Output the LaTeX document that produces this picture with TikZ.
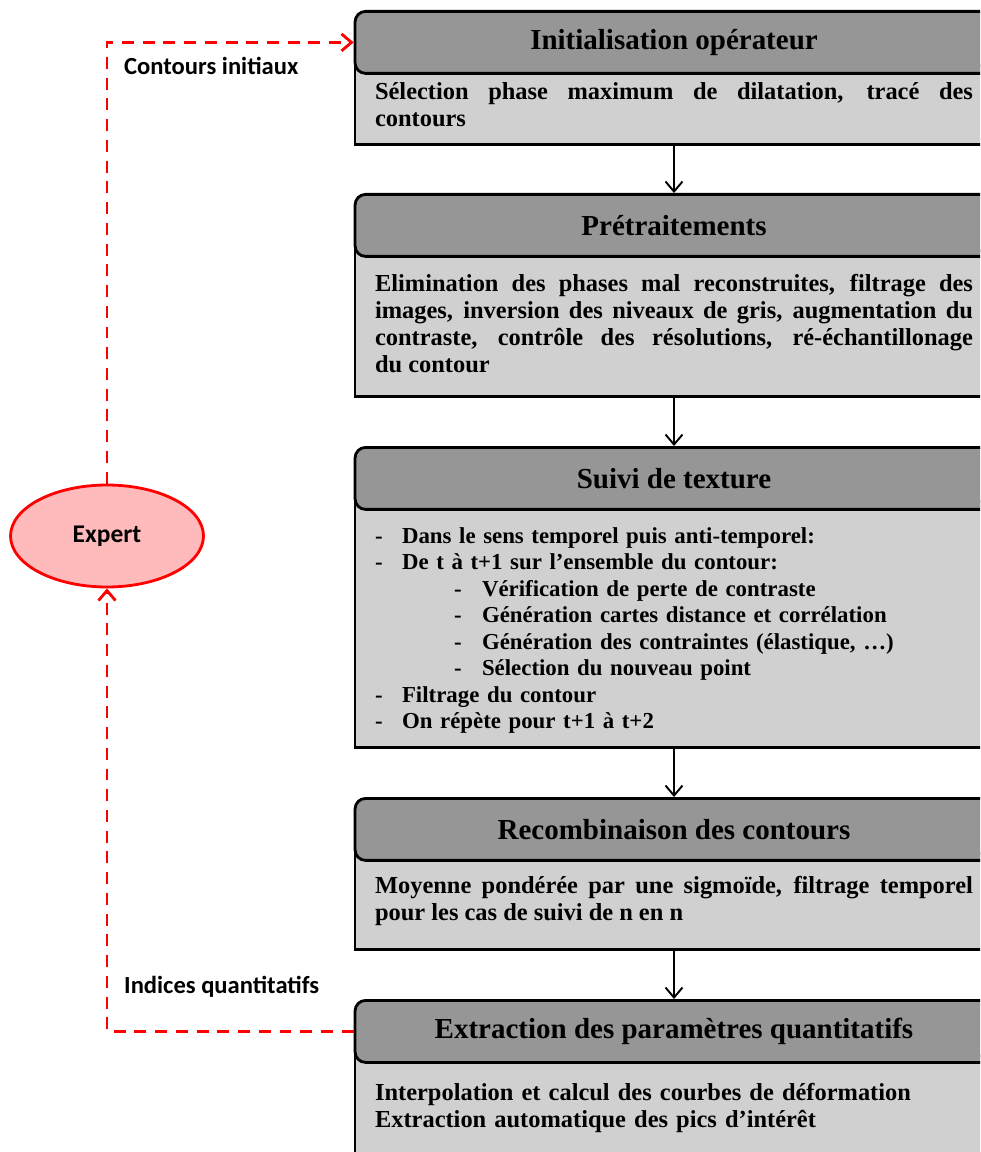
\documentclass[tikz,border=0pt]{standalone}
\usepackage{fontspec}
\setmainfont{Liberation Serif}
\newfontfamily\labelfont{Carlito}
\usepackage{tikz}
\usetikzlibrary{arrows.meta,shapes.geometric}

\definecolor{headgray}{RGB}{150,150,150}
\definecolor{bodygray}{RGB}{208,208,208}
\definecolor{expertpink}{RGB}{255,187,187}

\newcommand{\stepone}[1]{\makebox[0.54cm][l]{-}#1}
\newcommand{\steptwo}[1]{\hspace*{1.58cm}\makebox[0.56cm][l]{-}#1}

\begin{document}
\begin{tikzpicture}[x=0.02cm,y=-0.02cm,
  head/.style={draw=black,line width=1.6pt,fill=headgray,rounded corners=6pt,
    minimum width=12.76cm,minimum height=1.24cm,anchor=north,
    font=\bfseries\fontsize{16.5}{20}\selectfont},
  body/.style={draw=black,line width=1.6pt,fill=bodygray,
    minimum width=12.76cm,text width=11.96cm,anchor=north,inner xsep=0pt,
    font=\bfseries\fontsize{13.9}{15.3}\selectfont},
  flow/.style={draw=black,line width=1.1pt,-{Straight Barb[length=0.2cm,width=0.34cm]}},
  feedback/.style={draw=red,line width=1.6pt,dash pattern=on 6.8pt off 5pt,
    -{Straight Barb[length=0.2cm,width=0.34cm]}},
  side/.style={anchor=west,font=\labelfont\bfseries\fontsize{14}{16}\selectfont}]
\path[use as bounding box] (0,0) rectangle (980,1152);
\clip (0,0) rectangle (980,1152);

% boxes
\node[body,minimum height=1.58cm,align=justify] (b1) at (674,64)
  {S\'election phase maximum de dilatation, trac\'e des\linebreak contours};
\node[head] (h1) at (674,10) {Initialisation op\'erateur};

\node[body,minimum height=2.92cm,align=justify] (b2) at (674,249)
  {Elimination des phases mal reconstruites, filtrage des\linebreak
   images, inversion des niveaux de gris, augmentation du\linebreak
   contraste, contr\^ole des r\'esolutions, r\'e-\'echantillonage\linebreak
   du contour};
\node[head] (h2) at (674,193) {Pr\'etraitements};

\node[body,minimum height=4.92cm,align=left,
  font=\bfseries\fontsize{13}{15.1}\selectfont] (b3) at (674,500)
  {\rule{0pt}{16pt}\stepone{Dans le sens temporel puis anti-temporel:}\\
   \stepone{De t \`a t+1 sur l’ensemble du contour:}\\
   \steptwo{V\'erification de perte de contraste}\\
   \steptwo{G\'en\'eration cartes distance et corr\'elation}\\
   \steptwo{G\'en\'eration des contraintes (\'elastique, …)}\\
   \steptwo{S\'election du nouveau point}\\
   \stepone{Filtrage du contour}\\
   \stepone{On r\'ep\`ete pour t+1 \`a t+2}};
\node[head] (h3) at (674,446) {Suivi de texture};

\node[body,minimum height=1.92cm,align=justify] (b4) at (674,852)
  {Moyenne pond\'er\'ee par une sigmo\"ide, filtrage temporel\linebreak
   pour les cas de suivi de n en n};
\node[head] (h4) at (674,797) {Recombinaison des contours};

\node[body,minimum height=2.12cm,align=left] (b5) at (674,1054)
  {Interpolation et calcul des courbes de d\'eformation\\
   Extraction automatique des pics d’int\'er\^et};
\node[head] (h5) at (674,999) {Extraction des param\`etres quantitatifs};

% expert
\node[ellipse,draw=red,line width=1.6pt,fill=expertpink,minimum width=3.86cm,
  minimum height=2.04cm,inner sep=0pt,font=\labelfont\bfseries\fontsize{14.5}{16}\selectfont]
  (expert) at (107,536) {Expert};

% arrows
\draw[flow] (b1.south) -- (h2.north);
\draw[flow] (b2.south) -- (h3.north);
\draw[flow] (b3.south) -- (h4.north);
\draw[flow] (b4.south) -- (h5.north);

\draw[feedback] (expert.north) |- (h1.west);
\draw[feedback] (h5.west) -| (expert.south);

\node[side] (lbinit) at (118,66) {Contours initiaux};
\node[side] (lbind) at (118,987) {Indices quantitatifs};
\end{tikzpicture}
\end{document}
